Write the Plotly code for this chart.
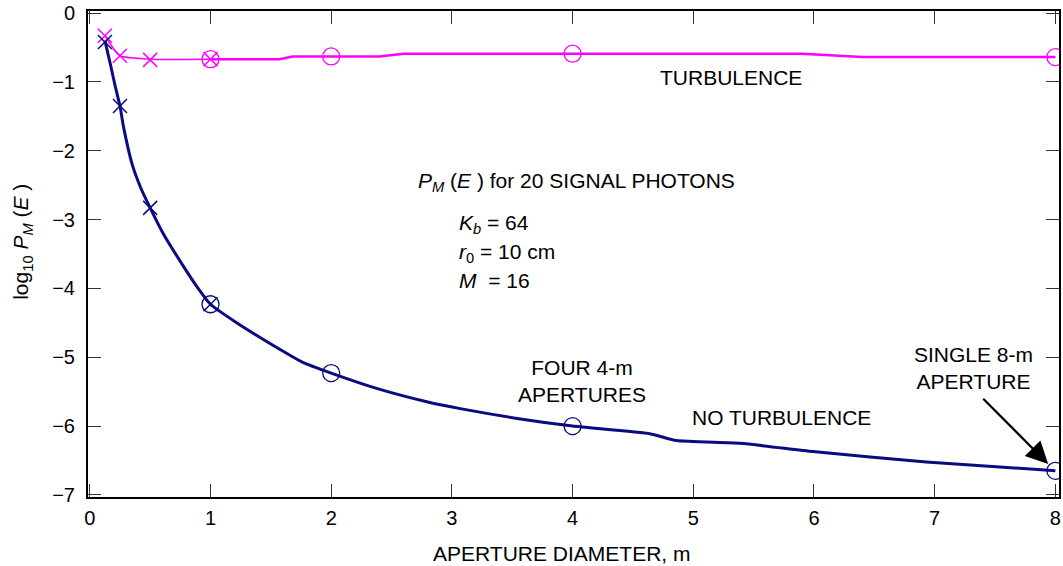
import plotly.graph_objects as go

# ---- data ----
# NO TURBULENCE curve (navy)
nt_line_x = [0.125, 0.17, 0.21, 0.25, 0.28, 0.35, 0.42, 0.5, 0.61, 0.78, 0.89, 1.0,
             1.21, 1.57, 1.76, 2.0, 2.39, 2.80, 3.08, 3.54, 4.0, 4.64, 4.86, 5.39,
             5.99, 6.93, 8.0]
nt_line_y = [-0.40, -0.74, -1.06, -1.35, -1.66, -2.19, -2.53, -2.83, -3.21, -3.69, -3.98, -4.23,
             -4.49, -4.88, -5.07, -5.23, -5.46, -5.65, -5.75, -5.89, -6.0, -6.11, -6.21, -6.25,
             -6.37, -6.52, -6.65]
nt_x_marks_x = [0.125, 0.25, 0.5, 1.0]
nt_x_marks_y = [-0.42, -1.35, -2.83, -4.23]
nt_o_marks_x = [1.0, 2.0, 4.0, 8.0]
nt_o_marks_y = [-4.23, -5.23, -6.0, -6.65]

# TURBULENCE curve (magenta)
t_thin_x = [0.125, 0.19, 0.25, 0.5, 1.0]
t_thin_y = [-0.33, -0.50, -0.62, -0.67, -0.67]
t_thick_x = [1.0, 1.57, 1.68, 2.0, 2.4, 2.6, 4.0, 5.9, 6.4, 8.0]
t_thick_y = [-0.67, -0.67, -0.63, -0.63, -0.63, -0.59, -0.59, -0.59, -0.64, -0.64]
t_x_marks_x = [0.125, 0.25, 0.5, 1.0]
t_x_marks_y = [-0.33, -0.62, -0.68, -0.67]
t_o_marks_x = [1.0, 2.0, 4.0, 8.0]
t_o_marks_y = [-0.67, -0.63, -0.59, -0.64]

x_ticks = [0, 1, 2, 3, 4, 5, 6, 7, 8]
y_ticks = [0, -1, -2, -3, -4, -5, -6, -7]

NAVY = "#0b0b80"
MAG = "#ff00ff"
FONT = "Liberation Sans, Arial, Helvetica, sans-serif"

fig = go.Figure()
fig.add_trace(go.Scatter(x=t_thin_x, y=t_thin_y, mode="lines",
                         line=dict(color=MAG, width=1.5, shape="spline", smoothing=0.6)))
fig.add_trace(go.Scatter(x=t_thick_x, y=t_thick_y, mode="lines",
                         line=dict(color=MAG, width=2.5)))
fig.add_trace(go.Scatter(x=t_x_marks_x, y=t_x_marks_y, mode="markers",
                         marker=dict(symbol="x-thin-open", size=14, color=MAG,
                                     line=dict(color=MAG, width=1.5))))
fig.add_trace(go.Scatter(x=t_o_marks_x, y=t_o_marks_y, mode="markers",
                         marker=dict(symbol="circle-open", size=17, color=MAG,
                                     line=dict(color=MAG, width=1.3))))
fig.add_trace(go.Scatter(x=nt_line_x, y=nt_line_y, mode="lines",
                         line=dict(color=NAVY, width=3, shape="spline", smoothing=0.5)))
fig.add_trace(go.Scatter(x=nt_x_marks_x, y=nt_x_marks_y, mode="markers",
                         marker=dict(symbol="x-thin-open", size=14, color=NAVY,
                                     line=dict(color=NAVY, width=1.5))))
fig.add_trace(go.Scatter(x=nt_o_marks_x, y=nt_o_marks_y, mode="markers",
                         marker=dict(symbol="circle-open", size=17, color=NAVY,
                                     line=dict(color=NAVY, width=1.3))))

ann_font = dict(family=FONT, size=21, color="black")
anns = [
    dict(x=5.31, y=-0.93, text="TURBULENCE", xanchor="center", yanchor="middle"),
    dict(x=2.70, y=-2.46, text="<i>P<sub>M</sub></i> (<i>E</i> ) for 20 SIGNAL PHOTONS",
         xanchor="left", yanchor="middle"),
    dict(x=3.04, y=-3.06, text="<i>K<sub>b</sub></i> = 64", xanchor="left", yanchor="middle"),
    dict(x=3.04, y=-3.48, text="<i>r</i><sub>0</sub> = 10 cm", xanchor="left", yanchor="middle"),
    dict(x=3.04, y=-3.89, text="<i>M</i>  = 16", xanchor="left", yanchor="middle"),
    dict(x=4.08, y=-5.34, text="FOUR 4-m<br>APERTURES", xanchor="center", yanchor="middle"),
    dict(x=5.73, y=-5.87, text="NO TURBULENCE", xanchor="center", yanchor="middle"),
    dict(x=7.32, y=-5.16, text="SINGLE 8-m<br>APERTURE", xanchor="center", yanchor="middle"),
]
for a in anns:
    fig.add_annotation(xref="x", yref="y", showarrow=False, font=ann_font, **a)

fig.add_annotation(xref="x", yref="y", x=7.94, y=-6.55, ax=7.39, ay=-5.58,
                   axref="x", ayref="y", text="", showarrow=True,
                   arrowhead=2, arrowsize=2.0, arrowwidth=2.2, arrowcolor="black")

# axis titles
fig.add_annotation(xref="paper", yref="paper", x=0.488, y=-0.117, showarrow=False,
                   text="APERTURE DIAMETER, m", font=ann_font,
                   xanchor="center", yanchor="middle")
fig.add_annotation(xref="paper", yref="paper", x=-0.068, y=0.525, showarrow=False,
                   text="log<sub>10</sub> <i>P<sub>M</sub></i> (<i>E</i> )", font=ann_font,
                   textangle=-90, xanchor="center", yanchor="middle")

axis_common = dict(showgrid=False, zeroline=False, showline=True, linecolor="black",
                   linewidth=2, mirror="allticks", ticks="inside", ticklen=13,
                   tickwidth=1.2, tickcolor="#333333",
                   tickfont=dict(family=FONT, size=20, color="black"))
fig.update_xaxes(range=[-0.015, 8.03], tickvals=x_ticks,
                 ticktext=[str(v) for v in x_ticks], ticklabelstandoff=2, **axis_common)
fig.update_yaxes(range=[-7.03, 0.03], tickvals=y_ticks,
                 ticktext=[("\u2212" + str(-v)) if v < 0 else str(v) for v in y_ticks],
                 ticklabelstandoff=7, **axis_common)

fig.update_layout(width=1063, height=566, showlegend=False,
                  plot_bgcolor="white", paper_bgcolor="white",
                  margin=dict(l=88, r=2, t=10, b=69),
                  font=dict(family=FONT))
fig.write_html("out.html")
